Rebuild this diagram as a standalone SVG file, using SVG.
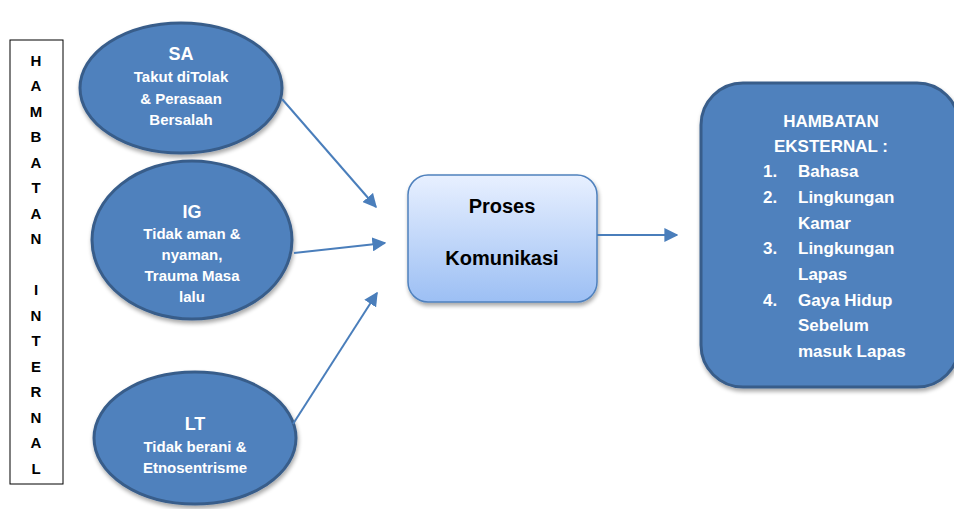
<svg xmlns="http://www.w3.org/2000/svg" width="954" height="509" viewBox="0 0 954 509">
<style>
.node{fill:#4f81bd;stroke:#385d8a;stroke-width:3}
.wt{font-family:"Liberation Sans",Arial,sans-serif;font-weight:bold;fill:#ffffff;text-anchor:middle}
.bt{font-family:"Liberation Sans",Arial,sans-serif;font-weight:bold;fill:#000000;text-anchor:middle}
.conn{stroke:#4a7ebb;stroke-width:2;fill:none;marker-end:url(#ah)}
</style>
<defs>
<marker id="ah" viewBox="0 0 10 10" refX="9" refY="5" markerWidth="7" markerHeight="7" markerUnits="strokeWidth" orient="auto">
<path d="M0,0 L10,5 L0,10 z" fill="#4a7ebb"/>
</marker>
<linearGradient id="pg" x1="0" y1="0" x2="0" y2="1">
<stop offset="0" stop-color="#e8f0ff"/>
<stop offset="1" stop-color="#9cbff4"/>
</linearGradient>
<filter id="sh" x="-10%" y="-10%" width="130%" height="130%">
<feGaussianBlur in="SourceAlpha" stdDeviation="2"/>
<feOffset dx="1" dy="3"/>
<feComponentTransfer><feFuncA type="linear" slope="0.35"/></feComponentTransfer>
<feMerge><feMergeNode/><feMergeNode in="SourceGraphic"/></feMerge>
</filter>
</defs>
<rect width="954" height="509" fill="#ffffff"/>
<g id="internal">
<rect x="10" y="40" width="53" height="444" fill="#ffffff" stroke="#000000" stroke-width="1"/>
<g class="bt" font-size="15">
<text x="36" y="66">H</text>
<text x="36" y="91">A</text>
<text x="36" y="117">M</text>
<text x="36" y="142">B</text>
<text x="36" y="168">A</text>
<text x="36" y="193">T</text>
<text x="36" y="219">A</text>
<text x="36" y="244">N</text>
<text x="36" y="295">I</text>
<text x="36" y="321">N</text>
<text x="36" y="346">T</text>
<text x="36" y="372">E</text>
<text x="36" y="397">R</text>
<text x="36" y="423">N</text>
<text x="36" y="448">A</text>
<text x="36" y="474">L</text>
</g>
</g>
<g id="sa">
<ellipse class="node" cx="181" cy="88" rx="101" ry="65" filter="url(#sh)"/>
<text class="wt" font-size="18" x="181" y="60">SA</text>
<text class="wt" font-size="15" x="181" y="82">Takut diTolak</text>
<text class="wt" font-size="15" x="181" y="104">&amp; Perasaan</text>
<text class="wt" font-size="15" x="181" y="125">Bersalah</text>
</g>
<g id="ig">
<ellipse class="node" cx="192" cy="240" rx="100" ry="79" filter="url(#sh)"/>
<text class="wt" font-size="18" x="192" y="218">IG</text>
<text class="wt" font-size="15" x="192" y="239">Tidak aman &amp;</text>
<text class="wt" font-size="15" x="192" y="260">nyaman,</text>
<text class="wt" font-size="15" x="192" y="281">Trauma Masa</text>
<text class="wt" font-size="15" x="192" y="302">lalu</text>
</g>
<g id="lt">
<ellipse class="node" cx="195" cy="438" rx="101" ry="66" filter="url(#sh)"/>
<text class="wt" font-size="18" x="195" y="430">LT</text>
<text class="wt" font-size="15" x="195" y="452">Tidak berani &amp;</text>
<text class="wt" font-size="15" x="195" y="473">Etnosentrisme</text>
</g>
<g id="proses">
<rect x="408" y="175" width="189" height="127" rx="20" ry="20" fill="url(#pg)" stroke="#4f81bd" stroke-width="1.5" filter="url(#sh)"/>
<text class="bt" font-size="20" x="502" y="213">Proses</text>
<text class="bt" font-size="20" x="502" y="265">Komunikasi</text>
</g>
<g id="eksternal">
<rect x="701" y="83" width="258" height="304" rx="42" ry="42" class="node" filter="url(#sh)"/>
<g class="wt" font-size="17">
<text x="831" y="127">HAMBATAN</text>
<text x="831" y="152">EKSTERNAL :</text>
</g>
<g font-family="'Liberation Sans',Arial,sans-serif" font-weight="bold" font-size="17" fill="#ffffff">
<text x="763" y="177">1.</text><text x="798" y="177">Bahasa</text>
<text x="763" y="203">2.</text><text x="798" y="203">Lingkungan</text>
<text x="798" y="229">Kamar</text>
<text x="763" y="254">3.</text><text x="798" y="254">Lingkungan</text>
<text x="798" y="280">Lapas</text>
<text x="763" y="306">4.</text><text x="798" y="306">Gaya Hidup</text>
<text x="798" y="331">Sebelum</text>
<text x="798" y="357">masuk Lapas</text>
</g>
</g>
<g id="connectors">
<line class="conn" x1="282" y1="99" x2="376" y2="207"/>
<line class="conn" x1="294" y1="253" x2="385" y2="243"/>
<line class="conn" x1="293" y1="424" x2="377" y2="293"/>
<line class="conn" x1="597" y1="235" x2="677" y2="235"/>
</g>
</svg>
